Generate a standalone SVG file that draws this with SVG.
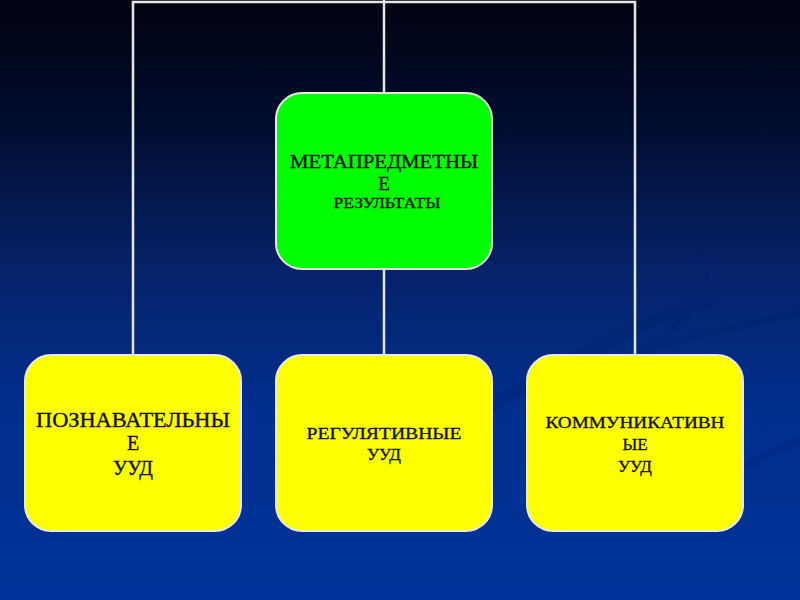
<svg xmlns="http://www.w3.org/2000/svg" width="800" height="600" viewBox="0 0 800 600">
<defs>
<linearGradient id="bg" x1="0" y1="0" x2="0" y2="1">
<stop offset="0" stop-color="#000210"/>
<stop offset="0.2" stop-color="#010d2e"/>
<stop offset="0.45" stop-color="#06226a"/>
<stop offset="0.7" stop-color="#00308f"/>
<stop offset="1" stop-color="#003399"/>
</linearGradient>
<style>
.box{stroke:#e8e8e8;stroke-width:2}
.yel{fill:#ffff00}
.grn{fill:#00ff00}
.conn{stroke:#e6e6e6;stroke-width:2.5;fill:none}
.t{font-family:"Liberation Serif","Times New Roman",serif;fill:#111;stroke:#111;stroke-width:0.35;text-anchor:middle}
.sw{fill:none;stroke:#001f70;stroke-linecap:round}
</style>
</defs>
<rect width="800" height="600" fill="url(#bg)"/>
<g id="swooshes" opacity="0.3">
<path class="sw" stroke-width="12" d="M470 420 C560 360 650 320 710 300"/>
<path class="sw" stroke-width="8" d="M600 380 C680 330 720 300 700 255"/>
<path class="sw" stroke-width="8" d="M740 470 C770 450 790 445 800 440"/>
<path class="sw" stroke-width="7" d="M640 350 C720 330 770 320 800 312"/>
</g>
<g id="connectors">
<polyline class="conn" points="133,355 133,2 635,2 635,355"/>
<line class="conn" x1="384" y1="0" x2="384" y2="93"/>
<line class="conn" x1="384" y1="269" x2="384" y2="355"/>
</g>
<g id="node-meta">
<rect class="box grn" x="276" y="93" width="216" height="176" rx="26"/>
<text class="t" x="384" y="168" font-size="19" textLength="188" lengthAdjust="spacingAndGlyphs">МЕТАПРЕДМЕТНЫ</text>
<text class="t" x="384" y="190" font-size="19">Е</text>
<text class="t" x="387" y="208" font-size="15" textLength="107" lengthAdjust="spacingAndGlyphs">РЕЗУЛЬТАТЫ</text>
</g>
<g id="node-poznav">
<rect class="box yel" x="25" y="355" width="216" height="176" rx="26"/>
<text class="t" x="133" y="427" font-size="20" textLength="194" lengthAdjust="spacingAndGlyphs">ПОЗНАВАТЕЛЬНЫ</text>
<text class="t" x="133" y="450" font-size="20">Е</text>
<text class="t" x="133" y="475" font-size="20">УУД</text>
</g>
<g id="node-regul">
<rect class="box yel" x="276" y="355" width="216" height="176" rx="26"/>
<text class="t" x="384" y="439" font-size="17" textLength="155" lengthAdjust="spacingAndGlyphs">РЕГУЛЯТИВНЫЕ</text>
<text class="t" x="384" y="460" font-size="17">УУД</text>
</g>
<g id="node-kommun">
<rect class="box yel" x="527" y="355" width="216" height="176" rx="26"/>
<text class="t" x="635" y="428" font-size="17" textLength="179" lengthAdjust="spacingAndGlyphs">КОММУНИКАТИВН</text>
<text class="t" x="635" y="450" font-size="17">ЫЕ</text>
<text class="t" x="635" y="472" font-size="17">УУД</text>
</g>
</svg>
